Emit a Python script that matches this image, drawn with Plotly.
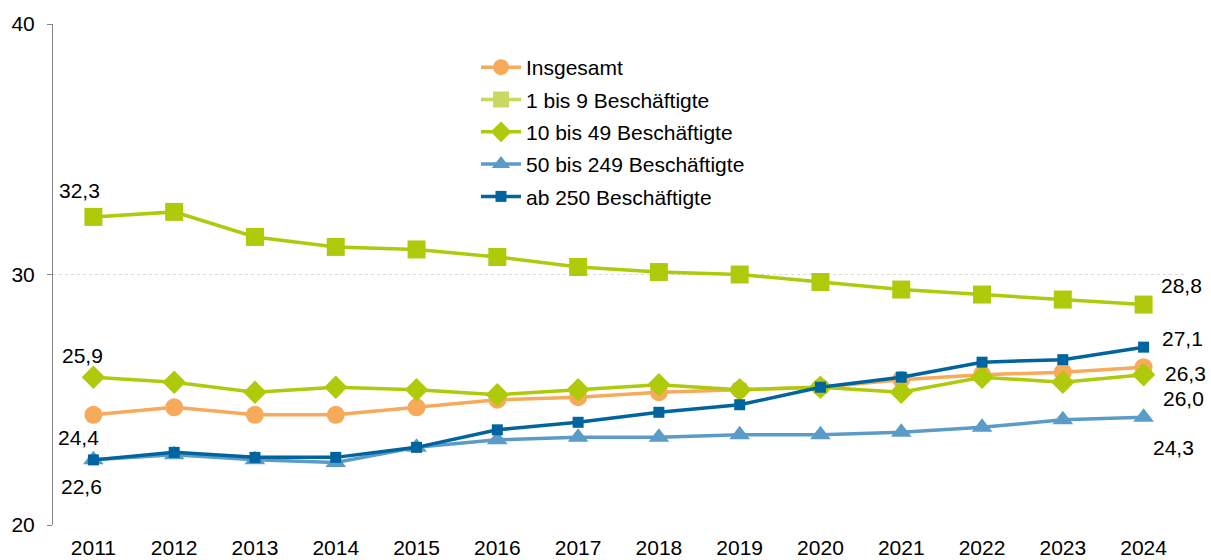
import plotly.graph_objects as go

years = ["2011", "2012", "2013", "2014", "2015", "2016", "2017", "2018", "2019", "2020", "2021", "2022", "2023", "2024"]
insgesamt = [24.4, 24.7, 24.4, 24.4, 24.7, 25.0, 25.1, 25.3, 25.4, 25.5, 25.8, 26.0, 26.1, 26.3]
b1_9 = [32.3, 32.5, 31.5, 31.1, 31.0, 30.7, 30.3, 30.1, 30.0, 29.7, 29.4, 29.2, 29.0, 28.8]
b10_49 = [25.9, 25.7, 25.3, 25.5, 25.4, 25.2, 25.4, 25.6, 25.4, 25.5, 25.3, 25.9, 25.7, 26.0]
b50_249 = [22.6, 22.8, 22.6, 22.5, 23.1, 23.4, 23.5, 23.5, 23.6, 23.6, 23.7, 23.9, 24.2, 24.3]
ab250 = [22.6, 22.9, 22.7, 22.7, 23.1, 23.8, 24.1, 24.5, 24.8, 25.5, 25.9, 26.5, 26.6, 27.1]

names = ["Insgesamt", "1 bis 9 Beschäftigte", "10 bis 49 Beschäftigte", "50 bis 249 Beschäftigte", "ab 250 Beschäftigte"]
yticks = [20, 30, 40]

FONT = "Liberation Sans, Arial, sans-serif"
FS = 21

series = [
    (names[0], insgesamt, "#F6AA5A", "circle", 18, 3.5),
    (names[1], b1_9, "#AFCA0B", "square", 18, 3.5),
    (names[2], b10_49, "#AFCA0B", "diamond", 18, 3.5),
    (names[3], b50_249, "#5B9BC8", "triangle-up", 18, 3.5),
    (names[4], ab250, "#00649F", "square", 11, 3.5),
]

fig = go.Figure()
for i, (nm, vals, col, sym, ms, lw) in enumerate(series):
    leg_col = "#C8D860" if i == 1 else col
    fig.add_trace(go.Scatter(
        x=years, y=vals, name=nm, mode="lines+markers",
        line=dict(color=col, width=lw),
        marker=dict(symbol=sym, size=ms, color=col),
        showlegend=False, legendgroup=f"g{i}",
    ))
    fig.add_trace(go.Scatter(
        x=[None], y=[None], name=nm, mode="lines+markers",
        line=dict(color=leg_col, width=lw),
        marker=dict(symbol=sym, size=ms, color=leg_col),
        showlegend=True, legendgroup=f"g{i}",
    ))

def fmt(v):
    return f"{v:.1f}".replace(".", ",")

ann = [
    (0, b1_9, -14, 26),
    (0, b10_49, -11, 22),
    (0, insgesamt, -15, -23),
    (0, b50_249, -12, -27),
    (13, b1_9, 38, 19),
    (13, ab250, 39, 9),
    (13, insgesamt, 42, -6),
    (13, b10_49, 40, -24),
    (13, b50_249, 30, -30),
]
for idx, arr, dx, dy in ann:
    fig.add_annotation(x=idx, y=arr[idx], xref="x", yref="y", text=fmt(arr[idx]), showarrow=False,
                       xshift=dx, yshift=dy, font=dict(family=FONT, size=FS, color="#000000"))

fig.update_layout(
    width=1211, height=560,
    margin=dict(l=53, r=27, t=24, b=35, autoexpand=False),
    paper_bgcolor="white", plot_bgcolor="white",
    font=dict(family=FONT, size=FS, color="#000000"),
    legend=dict(x=0.374, y=0.954, xanchor="left", yanchor="top",
                font=dict(family=FONT, size=FS), itemwidth=40,
                tracegroupgap=2, bgcolor="rgba(0,0,0,0)"),
    showlegend=True,
)
fig.update_xaxes(type="category", range=[-0.5, 13.5], showgrid=False, showline=False,
                 ticks="", tickfont=dict(family=FONT, size=FS), zeroline=False, automargin=False,
                 ticklabelstandoff=8)
fig.update_yaxes(range=[20, 40], tickvals=yticks, ticktext=[str(t) for t in yticks],
                 showgrid=True, gridcolor="#D9D9D9", griddash="dot", gridwidth=1,
                 showline=True, linecolor="#868686", linewidth=1,
                 ticks="outside", ticklen=5, tickcolor="#868686",
                 tickfont=dict(family=FONT, size=FS), zeroline=False, automargin=False,
                 ticklabelstandoff=8)

fig.write_html("out.html", config={"displayModeBar": False},
               post_script="document.body.style.margin='0';document.body.style.padding='0';")
